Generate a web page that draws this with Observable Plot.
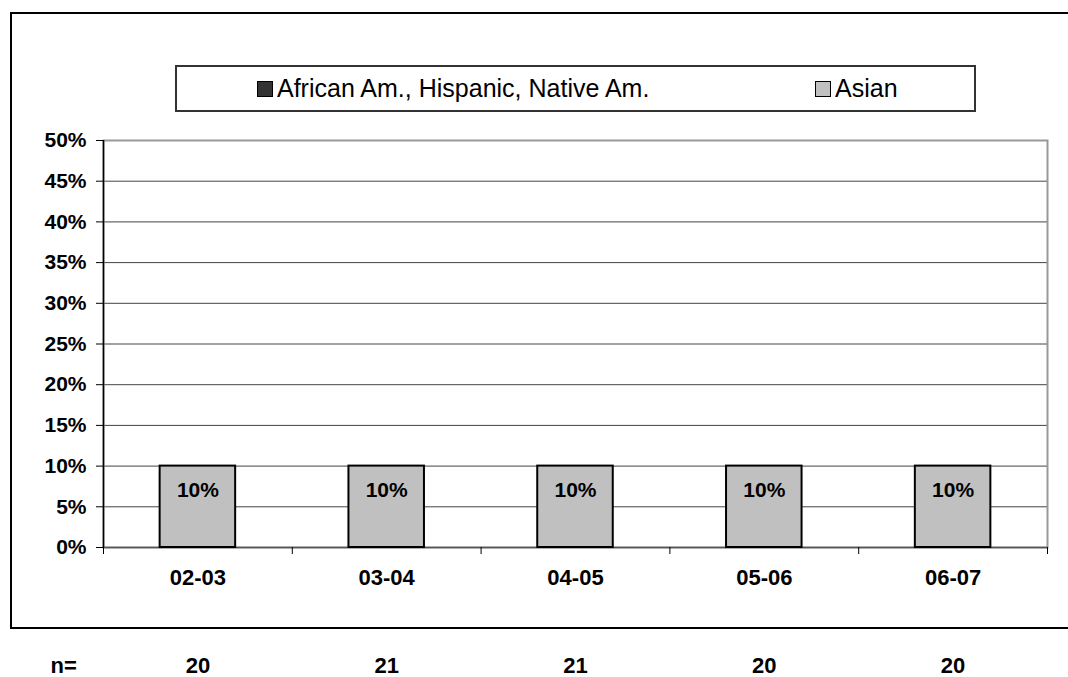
<!DOCTYPE html>
<html>
<head>
<meta charset="utf-8">
<script src="https://cdn.jsdelivr.net/npm/d3@7"></script>
<script src="https://cdn.jsdelivr.net/npm/@observablehq/plot@0.6"></script>
<style>
  html, body { margin: 0; padding: 0; background: #fff; }
  #wrap { position: relative; width: 1068px; height: 677px; overflow: hidden; font-family: "Liberation Sans", Arial, sans-serif; }
  #border { position: absolute; left: 10px; top: 12px; width: 1080px; height: 617px; border: 2px solid #000; border-right: none; box-sizing: border-box; }
  #legend { position: absolute; left: 175px; top: 65px; width: 801px; height: 47px; border: 2px solid #333; box-sizing: border-box; background: #fff; }
  .item { position: absolute; top: 0; height: 43px; display: flex; align-items: center; font-size: 25px; color: #000; }
  .sw { width: 14px; height: 14px; border: 1.5px solid #000; margin-right: 4px; }
  #chart { position: absolute; left: 0; top: 0; }
</style>
</head>
<body>
<div id="wrap">
  <div id="border"></div>
  <div id="chart"></div>
  <div id="legend"></div>
</div>
<script>
const years = ["02-03", "03-04", "04-05", "05-06", "06-07"];
const groups = ["African Am., Hispanic, Native Am.", "Asian"];
const africanAm = [0, 0, 0, 0, 0];
const asian = [10, 10, 10, 10, 10];
const nValues = [20, 21, 21, 20, 20];
const yTicks = [0, 5, 10, 15, 20, 25, 30, 35, 40, 45, 50];
const colors = ["#333333", "#c0c0c0"];

const W = 1068, H = 677, mL = 103, mR = 21, mT = 140, mB = 130;
const half = (W - mL - mR) / years.length / 2;

const tidy = [];
years.forEach((y, i) => {
  tidy.push({year: y, group: groups[0], value: africanAm[i]});
  tidy.push({year: y, group: groups[1], value: asian[i]});
});

const fontBold = {fontWeight: "bold", fontSize: 21, fill: "#000"};

const chart = Plot.plot({
  width: W, height: H,
  marginLeft: mL, marginRight: mR, marginTop: mT, marginBottom: mB,
  style: {fontFamily: "'Liberation Sans', Arial, sans-serif", background: "transparent", overflow: "visible"},
  x: {domain: years, paddingInner: 0.6, paddingOuter: 0.3, round: false, axis: null},
  y: {domain: [0, 50], axis: null},
  color: {domain: groups, range: colors},
  marks: [
    Plot.ruleY(yTicks.filter(d => d > 0 && d < 50), {y: d => d, stroke: "#444", strokeWidth: 1}),
    Plot.frame({stroke: "#999", strokeWidth: 2}),
    Plot.ruleY([0], {stroke: "#555", strokeWidth: 1.5}),
    Plot.ruleX([years[0]], {x: d => d, dx: -half, y1: 0, y2: 50, stroke: "#000", strokeWidth: 1.5}),
    Plot.axisY({ticks: yTicks, tickSize: 7, tickPadding: 10, tickFormat: d => d + "%", label: null, ...fontBold, stroke: "#000"}),
    Plot.axisX({ticks: years, tickSize: 7, dx: -half, tickFormat: () => "", stroke: "#000", label: null}),
    Plot.axisX({ticks: [years[years.length - 1]], tickSize: 7, dx: half, tickFormat: () => "", stroke: "#000", label: null}),
    Plot.barY(tidy.filter(d => d.value > 0), {x: "year", y: "value", fill: "group", stroke: "#000", strokeWidth: 2, order: groups}),
    Plot.text(tidy.filter(d => d.group === groups[1]), Plot.stackY2({x: "year", y: "value", text: d => d.value + "%", dy: 24, ...fontBold})),
    Plot.text(years, {x: d => d, frameAnchor: "bottom", dy: 37, text: d => d, ...fontBold, fontSize: 22}),
    Plot.text(nValues, {x: (d, i) => years[i], frameAnchor: "bottom", dy: 125, text: d => String(d), ...fontBold, fontSize: 22}),
    Plot.text(["n="], {frameAnchor: "bottom-left", dx: -53, dy: 125, text: d => d, textAnchor: "start", ...fontBold, fontSize: 22})
  ]
});
document.getElementById("chart").appendChild(chart);

const legend = document.getElementById("legend");
const lefts = [80, 638];
groups.forEach((g, i) => {
  const it = document.createElement("div");
  it.className = "item";
  it.style.left = lefts[i] + "px";
  const sw = document.createElement("div");
  sw.className = "sw";
  sw.style.background = colors[i];
  it.appendChild(sw);
  const t = document.createElement("span");
  t.textContent = g;
  it.appendChild(t);
  legend.appendChild(it);
});
</script>
</body>
</html>
